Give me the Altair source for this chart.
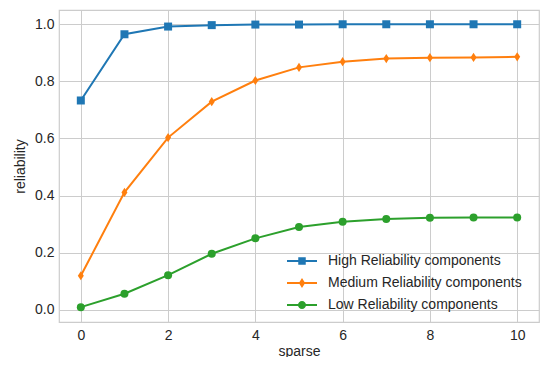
import altair as alt
import pandas as pd

sparse = list(range(11))
high = [0.733, 0.965, 0.992, 0.997, 0.999, 0.999, 1.0, 1.0, 1.0, 1.0, 1.0]
medium = [0.119, 0.411, 0.603, 0.729, 0.803, 0.849, 0.869, 0.880, 0.883, 0.884, 0.886]
low = [0.009, 0.056, 0.121, 0.196, 0.250, 0.290, 0.308, 0.318, 0.322, 0.323, 0.323]
series = ["High Reliability components", "Medium Reliability components", "Low Reliability components"]
colors = ["#1f77b4", "#ff7f0e", "#2ca02c"]
x_ticks = [0, 2, 4, 6, 8, 10]
y_ticks = [0.0, 0.2, 0.4, 0.6, 0.8, 1.0]

rows = []
for name, vals in zip(series, [high, medium, low]):
    for s, v in zip(sparse, vals):
        rows.append({"sparse": s, "reliability": v, "series": name})
df = pd.DataFrame(rows)

FONT = "Liberation Sans"
TXT = "#262626"

# marker shapes
square = "square"
thin_diamond = "M0,-1.15L0.75,0L0,1.15L-0.75,0Z"
circle = "circle"
marker_shapes = [square, thin_diamond, circle]

# legend symbols: line + marker
leg_square = "M-1,-0.067H1V0.067H-1Z M-0.25,-0.25H0.25V0.25H-0.25Z"
leg_diamond = "M-1,-0.067H1V0.067H-1Z M0,-0.33L0.21,0L0,0.33L-0.21,0Z"
leg_circle = "M-1,-0.067H1V0.067H-1Z M-0.27,0A0.27,0.27 0 1,1 0.27,0A0.27,0.27 0 1,1 -0.27,0Z"
legend_shapes = [leg_square, leg_diamond, leg_circle]

legend = alt.Legend(
    title=None, orient="none", legendX=228, legendY=236,
    labelFont=FONT, labelFontSize=14, labelColor=TXT, labelLimit=0,
    symbolSize=900, symbolStrokeWidth=0, labelOffset=11,
    padding=0, rowPadding=0,
)

x = alt.X("sparse:Q", scale=alt.Scale(domain=[-0.5, 10.5], nice=False, zero=False),
          axis=alt.Axis(values=x_ticks, title="sparse", labelPadding=6, titlePadding=2))
y = alt.Y("reliability:Q", scale=alt.Scale(domain=[-0.043, 1.05], nice=False, zero=False),
          axis=alt.Axis(values=y_ticks, format=".1f", title="reliability", labelPadding=5, titlePadding=7))
color = alt.Color("series:N", scale=alt.Scale(domain=series, range=colors), legend=legend)

base = alt.Chart(df)

legend_layer = base.transform_filter("false").mark_point(filled=True, opacity=1, size=900).encode(
    x=x, y=y, color=color,
    shape=alt.Shape("series:N", scale=alt.Scale(domain=series, range=legend_shapes), legend=legend),
)

lines = base.mark_line(strokeWidth=2).encode(x=x, y=y, color=color)

point_layers = []
for name, shp in zip(series, marker_shapes):
    point_layers.append(
        base.transform_filter(alt.datum.series == name)
        .mark_point(filled=True, opacity=1, size=64, shape=shp)
        .encode(x=x, y=y, color=color)
    )

chart = alt.layer(legend_layer, lines, *point_layers).properties(
    width=480, height=312,
    autosize=alt.AutoSizeParams(type="none"),
    padding={"left": 51, "top": 2, "right": 3, "bottom": 35},
).configure_axis(
    domain=False, ticks=False, grid=True, gridColor="#cccccc", gridWidth=1,
    labelFont=FONT, labelFontSize=14, labelColor=TXT,
    titleFont=FONT, titleFontSize=14, titleFontWeight="normal", titleColor=TXT,
).configure_view(stroke="#cccccc", strokeWidth=1.2)

chart.save("out.html", embed_options={"renderer": "svg", "actions": False})
